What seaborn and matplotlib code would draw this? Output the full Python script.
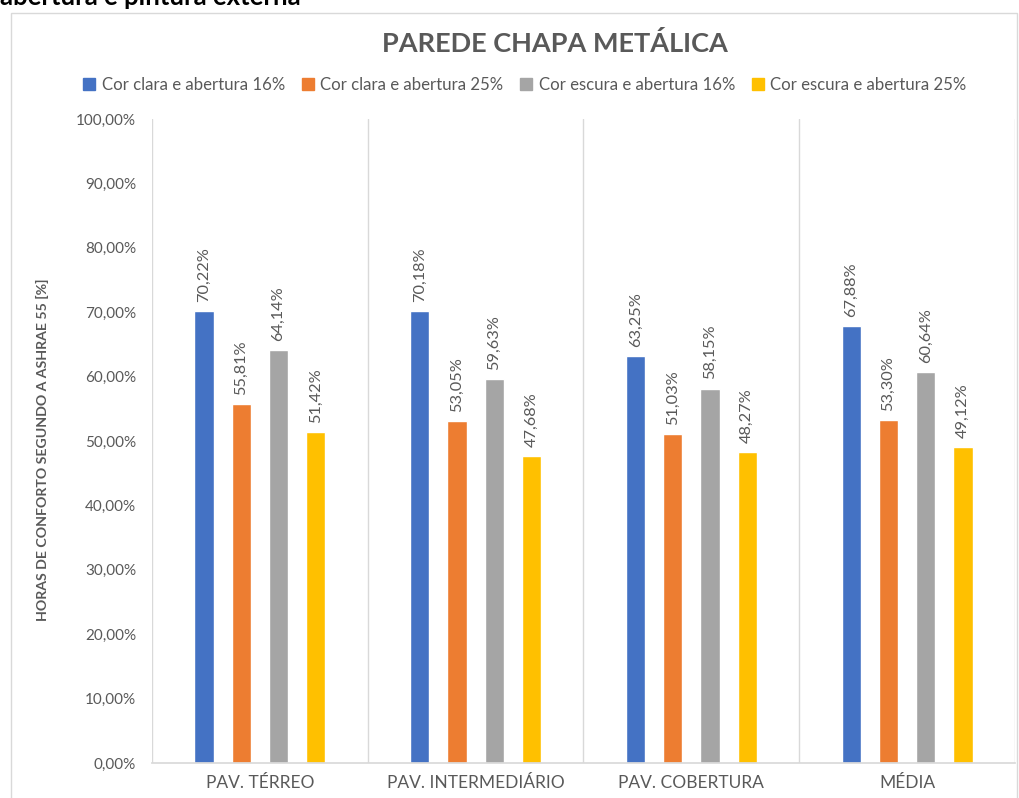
import matplotlib
matplotlib.use("Agg")
import matplotlib.pyplot as plt
import seaborn as sns
import pandas as pd
from matplotlib.patches import Rectangle
from matplotlib.ticker import FuncFormatter, FixedLocator

categories = ["PAV. TÉRREO", "PAV. INTERMEDIÁRIO", "PAV. COBERTURA", "MÉDIA"]
series_names = ["Cor clara e abertura 16%", "Cor clara e abertura 25%",
                "Cor escura e abertura 16%", "Cor escura e abertura 25%"]
clara_16 = [70.22, 70.18, 63.25, 67.88]
clara_25 = [55.81, 53.05, 51.03, 53.30]
escura_16 = [64.14, 59.63, 58.15, 60.64]
escura_25 = [51.42, 47.68, 48.27, 49.12]
colors = ["#4472C4", "#ED7D31", "#A5A5A5", "#FFC000"]

rows = []
for name, vals in zip(series_names, [clara_16, clara_25, escura_16, escura_25]):
    for c, v in zip(categories, vals):
        rows.append({"cat": c, "serie": name, "val": v})
df = pd.DataFrame(rows)

sns.set_theme(style="white")
plt.rcParams["font.family"] = ["Lato", "DejaVu Sans"]
grey = "#595959"

fig = plt.figure(figsize=(10.2, 7.98), dpi=100)
ax = fig.add_axes([152/1020, 1-763/798, (1015-152)/1020, (763-119)/798])

sns.barplot(data=df, x="cat", y="val", hue="serie", order=categories,
            hue_order=series_names, palette=colors, width=0.69, gap=0.48,
            saturation=1, ax=ax, legend=True, errorbar=None)

for cont in ax.containers:
    labels = [f"{v:.2f}%".replace(".", ",") for v in cont.datavalues]
    ax.bar_label(cont, labels=labels, rotation=90, padding=6.5, fontsize=11.8, color=grey)

ax.set_ylim(0, 100)
ax.set_xlim(-0.5, 3.5)
ax.set_yticks(range(0, 101, 10))
ax.yaxis.set_major_formatter(FuncFormatter(lambda v, p: f"{v:.2f}%".replace(".", ",")))
ax.tick_params(axis="y", labelsize=11, labelcolor=grey, length=0, pad=11.5)
ax.tick_params(axis="x", labelsize=12.5, labelcolor=grey, length=0, pad=9)
ax.set_xlabel("")
ax.set_ylabel("HORAS DE CONFORTO SEGUNDO A ASHRAE 55 [%]", fontsize=10.2,
              color=grey, fontweight="bold")
ax.yaxis.set_label_coords(-0.119, 0.486)

for s in ["top", "right", "left"]:
    ax.spines[s].set_visible(False)
ax.spines["bottom"].set_color("#D9D9D9")
ax.xaxis.set_minor_locator(FixedLocator([-0.5, 0.5, 1.5, 2.5, 3.5]))
ax.grid(which="minor", axis="x", color="#D9D9D9", linewidth=1)
ax.grid(which="major", axis="both", visible=False)
ax.set_axisbelow(True)

ax.get_legend().remove()
handles = [Rectangle((0, 0), 1, 1, color=c) for c in colors]
fig.legend(handles, series_names, loc="center", bbox_to_anchor=(525/1020, 1-85/798),
           ncol=4, frameon=False, fontsize=12.1, handlelength=0.7, handleheight=0.7,
           handletextpad=0.4, columnspacing=1.0, labelcolor=grey)

fig.text(555/1020, 1-43/798, "PAREDE CHAPA METÁLICA", ha="center", va="center",
         fontsize=19.5, fontweight="bold", color=grey)
fig.text(0/1020, 1-5/798, "abertura e pintura externa", ha="left", va="baseline",
         fontsize=18.5, fontweight="bold", color="black")

fig.add_artist(Rectangle((11/1020, -0.01), (1017-11)/1020, (798-13)/798 + 0.01,
                         transform=fig.transFigure, fill=False,
                         edgecolor="#D9D9D9", linewidth=1))

fig.savefig("out.png", dpi=100)
